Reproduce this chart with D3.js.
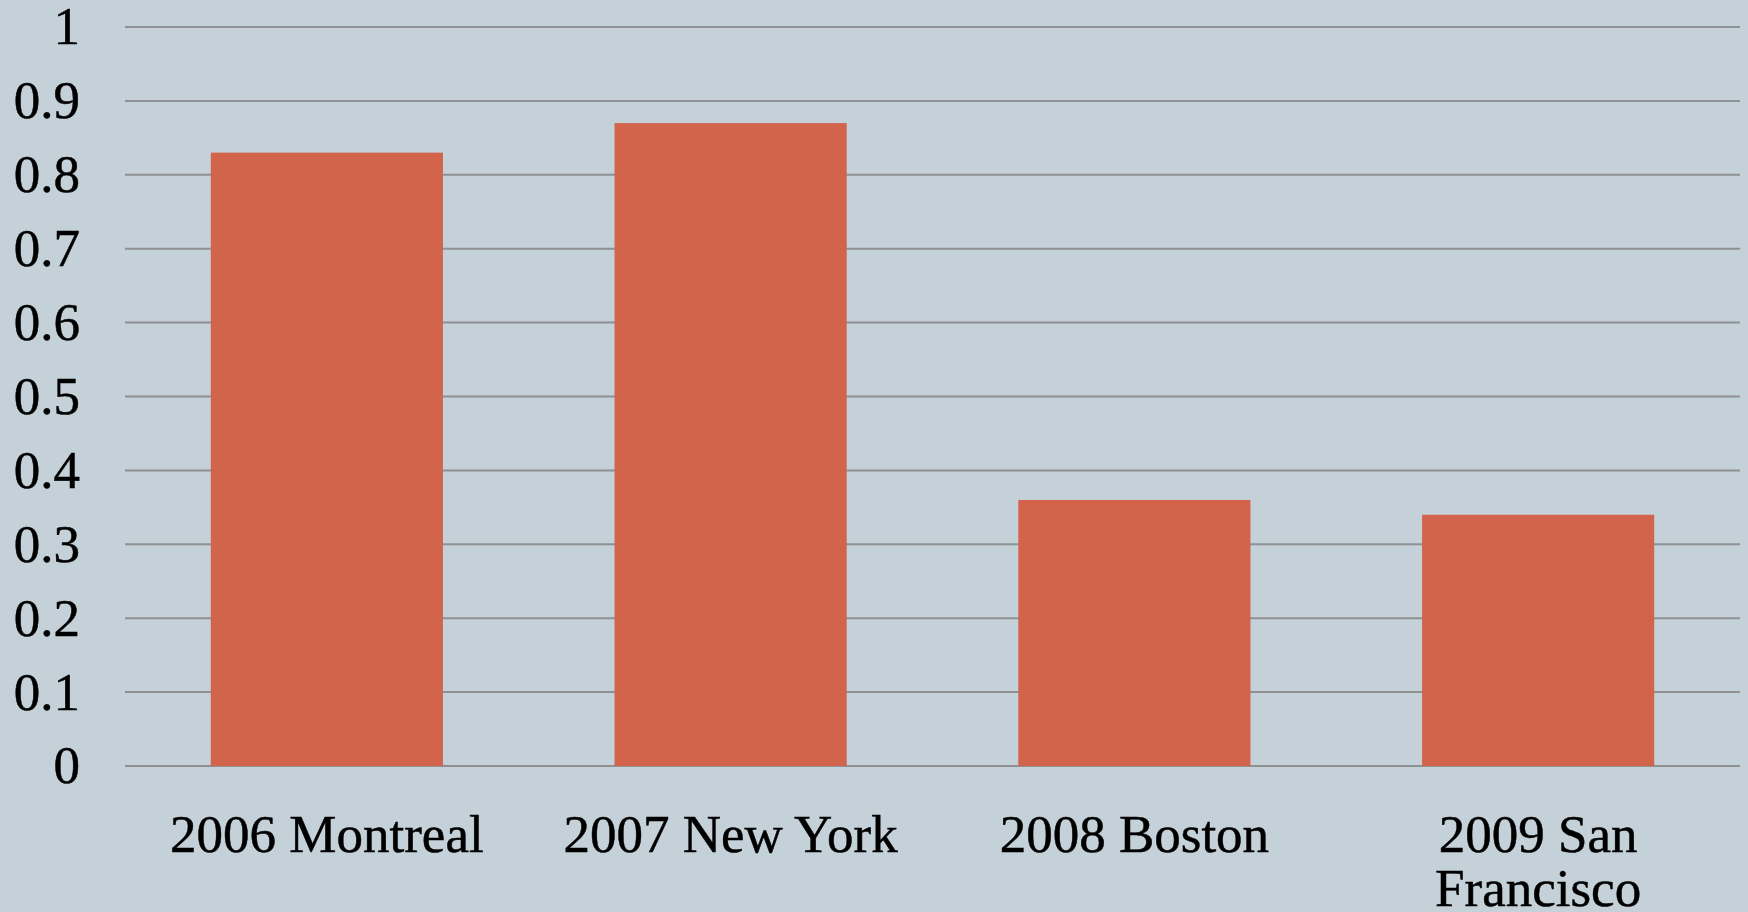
<!DOCTYPE html>
<html>
<head>
<meta charset="utf-8">
<script src="https://cdn.jsdelivr.net/npm/d3@7"></script>
<style>
  html, body { margin: 0; padding: 0; background: #c5d1d8; }
  svg { display: block; }
</style>
</head>
<body>
<svg id="chart"></svg>
<script>
// chart data
const categories = ["2006 Montreal", "2007 New York", "2008 Boston", "2009 San Francisco"];
const values = [0.83, 0.87, 0.36, 0.34];
const yTicks = [0, 0.1, 0.2, 0.3, 0.4, 0.5, 0.6, 0.7, 0.8, 0.9, 1];

const width = 1748;
const height = 912;
const margin = { top: 27, right: 8, bottom: 146, left: 125 };
const innerW = width - margin.left - margin.right;
const innerH = height - margin.top - margin.bottom;

const font = "'Liberation Serif', 'Times New Roman', serif";
const fontSize = 53;

const svg = d3.select("#chart")
    .attr("width", width)
    .attr("height", height);

svg.append("rect")
    .attr("width", width)
    .attr("height", height)
    .attr("fill", "#c5d1d8");

const g = svg.append("g")
    .attr("transform", "translate(" + margin.left + "," + margin.top + ")");

const x = d3.scaleBand()
    .domain(categories)
    .range([0, innerW])
    .paddingInner(0.425)
    .paddingOuter(0.2125);

const y = d3.scaleLinear()
    .domain([0, 1])
    .range([innerH, 0]);

// gridlines
g.selectAll("line.grid")
    .data(yTicks)
    .enter()
    .append("line")
    .attr("class", "grid")
    .attr("x1", 0)
    .attr("x2", innerW)
    .attr("y1", d => y(d))
    .attr("y2", d => y(d))
    .attr("stroke", "#8e9092")
    .attr("stroke-width", 2);

// y axis labels
const yAxis = g.append("g")
    .call(d3.axisLeft(y).tickValues(yTicks).tickSize(0).tickPadding(45).tickFormat(d3.format("")));
yAxis.select(".domain").remove();
yAxis.selectAll("text")
    .attr("font-family", font)
    .attr("font-size", fontSize)
    .attr("fill", "#000")
    .attr("stroke", "#000")
    .attr("stroke-width", 0.5);

// bars
g.selectAll("rect.bar")
    .data(values)
    .enter()
    .append("rect")
    .attr("class", "bar")
    .attr("x", (d, i) => x(categories[i]))
    .attr("y", d => y(d))
    .attr("width", x.bandwidth())
    .attr("height", d => innerH - y(d))
    .attr("fill", "#d2644b");

// x axis labels
const xAxis = g.append("g")
    .attr("transform", "translate(0," + innerH + ")")
    .call(d3.axisBottom(x).tickSize(0).tickPadding(0));
xAxis.select(".domain").remove();
xAxis.selectAll("text")
    .attr("font-family", font)
    .attr("font-size", fontSize)
    .attr("fill", "#000")
    .attr("stroke", "#000")
    .attr("stroke-width", 0.5)
    .attr("y", 86)
    .attr("dy", 0)
    .call(wrap, x.step() * 0.95);

function wrap(texts, maxW) {
    texts.each(function () {
        const text = d3.select(this);
        const words = text.text().split(/\s+/);
        const yPos = text.attr("y");
        text.text(null);
        let line = [];
        let lineNo = 0;
        let tspan = text.append("tspan").attr("x", 0).attr("y", yPos);
        words.forEach(w => {
            line.push(w);
            tspan.text(line.join(" "));
            if (tspan.node().getComputedTextLength() > maxW && line.length > 1) {
                line.pop();
                tspan.text(line.join(" "));
                line = [w];
                lineNo++;
                tspan = text.append("tspan").attr("x", 0).attr("y", +yPos + lineNo * 54).text(w);
            }
        });
    });
}
</script>
</body>
</html>
